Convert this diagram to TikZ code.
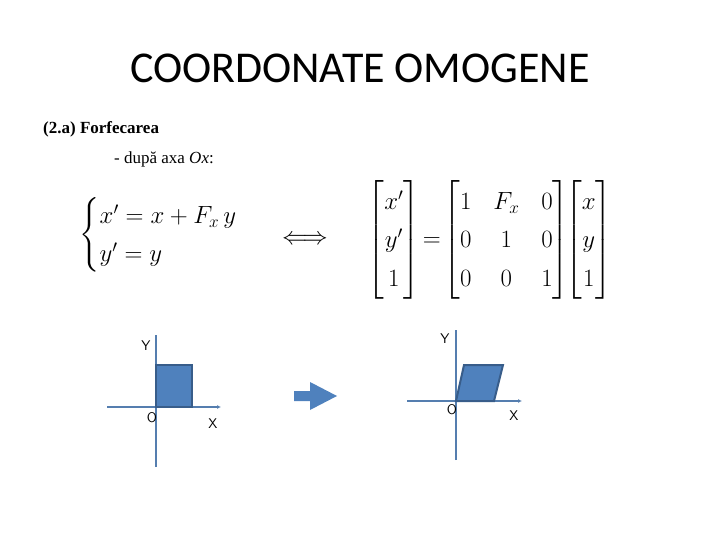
\documentclass[tikz,border=0pt]{standalone}
\usepackage{amsmath}
\usepackage{fontspec}
\setmainfont{Liberation Serif}
\newfontfamily\titlefont{Carlito}
\usetikzlibrary{arrows.meta}
\definecolor{fillb}{RGB}{79,129,189}
\definecolor{edgeb}{RGB}{56,93,138}
\definecolor{axisc}{RGB}{74,126,187}
\begin{document}
\begin{tikzpicture}[x=1pt,y=-1pt,
  axis/.style={draw=axisc!80!gray,line width=1.3pt,-{Latex[length=4pt,width=4pt]}},
  axisplain/.style={draw=axisc!80!gray,line width=1.3pt},
  shapefill/.style={fill=fillb,draw=edgeb,line width=2pt},
  lab/.style={font=\sffamily\fontsize{14}{16}\selectfont,inner sep=0pt},
  eq/.style={inner sep=0pt,font=\fontsize{27}{32}\selectfont}]
\useasboundingbox (0,0) rectangle (720,540);
\node[font=\titlefont\fontsize{44}{48}\selectfont] (title) at (360,68) {COORDONATE OMOGENE};
\node[anchor=west,font=\bfseries\fontsize{17}{20}\selectfont,inner sep=0pt] (sub) at (43,129) {(2.a) Forfecarea};
\node[anchor=west,font=\fontsize{17}{20}\selectfont,inner sep=0pt] (sub2) at (114,159) {- după axa \textit{Ox}:};
\node[eq] (sys) at (172,235) {$\begin{cases} x'=x+F_{x}\,y\\ y'=y\end{cases}$};
\node[eq] (iff) at (305,240) {$\Longleftrightarrow$};
\node[eq] (mat) at (490,240) {\renewcommand{\arraystretch}{1.2}\setlength{\arraycolsep}{11pt}$\begin{bmatrix} x'\\ y'\\ 1\end{bmatrix}\!=\!\begin{bmatrix} 1 & F_{x} & 0\\ 0 & 1 & 0\\ 0 & 0 & 1\end{bmatrix}\!\!\begin{bmatrix} x\\ y\\ 1\end{bmatrix}$};
% left axes
\coordinate (ly0) at (156,467); \coordinate (ly1) at (156,335);
\coordinate (lx0) at (107,407); \coordinate (lx1) at (221,407);
\draw[axisplain] (ly0) -- (ly1);
\draw[axis] (lx0) -- (lx1);
\draw[shapefill] (156,365) rectangle (192,407);
\node[lab] (lY) at (146,346) {Y};
\node[lab] (lO) at (152,418) {O};
\node[lab] (lX) at (213,424) {X};
% big arrow
\fill[fillb] (294,391) -- (310,391) -- (310,382) -- (337,396) -- (310,410) -- (310,401) -- (294,401) -- cycle;
% right axes
\coordinate (ry0) at (456,460); \coordinate (ry1) at (456,330);
\coordinate (rx0) at (407,401); \coordinate (rx1) at (522,401);
\draw[axisplain] (ry0) -- (ry1);
\draw[axis] (rx0) -- (rx1);
\draw[shapefill] (456,401) -- (464,365) -- (503,365) -- (494,401) -- cycle;
\node[lab] (rY) at (445,339) {Y};
\node[lab] (rO) at (452,410) {O};
\node[lab] (rX) at (514,416) {X};
\end{tikzpicture}
\end{document}
